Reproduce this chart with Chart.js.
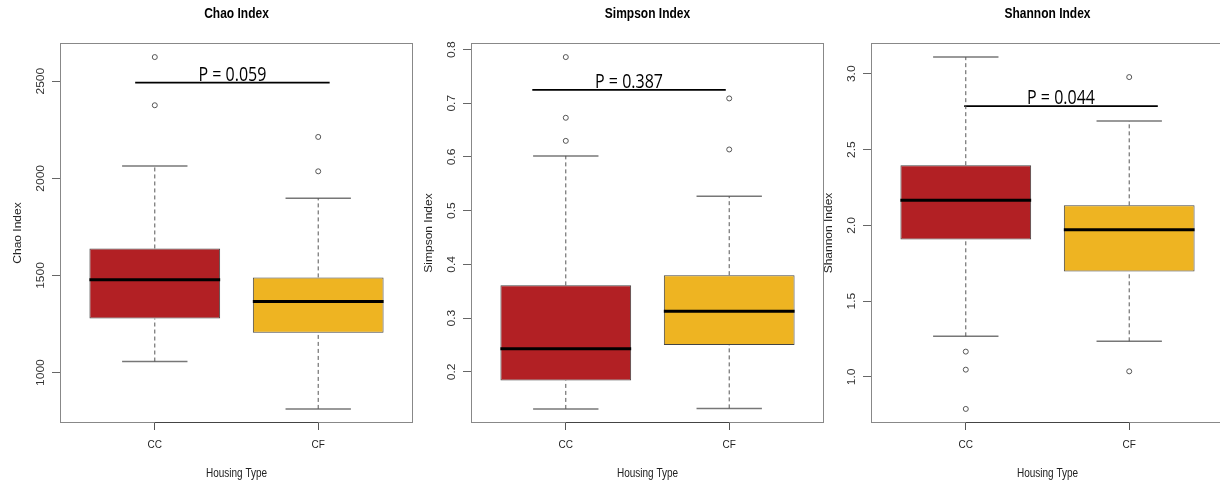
<!DOCTYPE html>
<html>
<head>
<meta charset="utf-8">
<script src="https://cdn.jsdelivr.net/npm/chart.js@4.4.1/dist/chart.umd.min.js"></script>
<style>
  html, body { margin: 0; padding: 0; background: #fff; overflow: hidden; }
  #wrap { position: relative; width: 1220px; height: 491px; overflow: hidden; }
  canvas { position: absolute; top: 0; }
</style>
</head>
<body>
<div id="wrap">
  <canvas id="chao" width="418" height="491" style="left:0px"></canvas>
  <canvas id="simpson" width="418" height="491" style="left:411px"></canvas>
  <canvas id="shannon" width="418" height="491" style="left:811px"></canvas>
</div>
<script>
const groups = ["CC", "CF"];
const boxColors = ["#B22024", "#EEB422"];

// Chao
const chaoLow = [1057, 813];
const chaoQ1 = [1278, 1205];
const chaoMedian = [1478, 1366];
const chaoQ3 = [1639, 1490];
const chaoHigh = [2063, 1898];
const chaoOutliers = [[2624, 2376], [2213, 2036]];
const chaoTicks = [1000, 1500, 2000, 2500];
const chaoTickLabels = ["1000", "1500", "2000", "2500"];
const chaoP = { text: "P = 0.059", y: 2492, from: 0.88, to: 2.07 };

// Simpson
const simpsonLow = [0.131, 0.132];
const simpsonQ1 = [0.184, 0.250];
const simpsonMedian = [0.243, 0.313];
const simpsonQ3 = [0.361, 0.380];
const simpsonHigh = [0.602, 0.527];
const simpsonOutliers = [[0.786, 0.673, 0.630], [0.709, 0.614]];
const simpsonTicks = [0.2, 0.3, 0.4, 0.5, 0.6, 0.7, 0.8];
const simpsonTickLabels = ["0.2", "0.3", "0.4", "0.5", "0.6", "0.7", "0.8"];
const simpsonP = { text: "P = 0.387", y: 0.725, from: 0.795, to: 1.979 };

// Shannon
const shannonLow = [1.268, 1.235];
const shannonQ1 = [1.907, 1.696];
const shannonMedian = [2.165, 1.971];
const shannonQ3 = [2.397, 2.132];
const shannonHigh = [3.110, 2.688];
const shannonOutliers = [[1.167, 1.048, 0.789], [2.978, 1.037]];
const shannonTicks = [1.0, 1.5, 2.0, 2.5, 3.0];
const shannonTickLabels = ["1.0", "1.5", "2.0", "2.5", "3.0"];
const shannonP = { text: "P = 0.044", y: 2.786, from: 0.99, to: 2.175 };

const STRETCH = 1.2; // the source image is stretched vertically

function seg(x0, x1, y0, y1, color, width, dash) {
  return {
    type: "line",
    data: [{ x: x0, y: y0 }, { x: x1, y: y1 }],
    borderColor: color,
    borderWidth: width,
    borderDash: dash || [],
    pointRadius: 0,
    fill: false,
    tension: 0,
    order: 1
  };
}

function stretchText(ctx, text, x, y, rotate) {
  ctx.save();
  ctx.translate(x, y);
  ctx.scale(1, STRETCH);
  if (rotate) ctx.rotate(-Math.PI / 2);
  ctx.fillText(text, 0, 0);
  ctx.restore();
}

function makeChart(id, p) {
  // R style range: data extent + 4%
  const all = p.low.concat(p.high, p.outliers.flat());
  const lo = Math.min(...all), hi = Math.max(...all);
  const pad = (hi - lo) * 0.04;

  const datasets = [{
    type: "bar",
    data: groups.map((g, i) => ({ x: i + 1, y: [p.q1[i], p.q3[i]] })),
    backgroundColor: boxColors,
    borderColor: "#444",
    borderWidth: 1,
    borderSkipped: false,
    barPercentage: 0.8,
    categoryPercentage: 1,
    order: 2
  }];

  groups.forEach((g, i) => {
    const c = i + 1;
    datasets.push(seg(c, c, p.q3[i], p.high[i], "#555", 1, [4, 3]));
    datasets.push(seg(c, c, p.low[i], p.q1[i], "#555", 1, [4, 3]));
    datasets.push(seg(c - 0.2, c + 0.2, p.high[i], p.high[i], "#777", 1.5));
    datasets.push(seg(c - 0.2, c + 0.2, p.low[i], p.low[i], "#777", 1.5));
    datasets.push(seg(c - 0.4, c + 0.4, p.median[i], p.median[i], "#000", 3));
    datasets.push({
      type: "line",
      showLine: false,
      data: p.outliers[i].map(v => ({ x: c, y: v })),
      pointRadius: 2.5,
      pointBackgroundColor: "rgba(0,0,0,0)",
      pointBorderColor: "#555",
      pointBorderWidth: 1,
      order: 0
    });
  });

  datasets.push(seg(p.pval.from, p.pval.to, p.pval.y, p.pval.y, "#000", 1.8));

  const decor = {
    id: "decor",
    afterDraw(chart) {
      const ctx = chart.ctx;
      const a = chart.chartArea;
      const xs = chart.scales.x, ys = chart.scales.y;
      ctx.save();
      // frame
      ctx.strokeStyle = "#888";
      ctx.lineWidth = 1;
      ctx.strokeRect(a.left + 0.5, a.top + 0.5, a.right - a.left - 1, a.bottom - a.top - 1);
      // bottom axis line between the two groups
      ctx.strokeStyle = "#444";
      ctx.beginPath();
      ctx.moveTo(xs.getPixelForValue(1), a.bottom - 0.5);
      ctx.lineTo(xs.getPixelForValue(2), a.bottom - 0.5);
      ctx.stroke();

      const cx = (a.left + a.right) / 2;
      // title
      ctx.fillStyle = "#000";
      ctx.textAlign = "center";
      ctx.textBaseline = "middle";
      ctx.font = "bold 12px 'Liberation Sans', Arial, sans-serif";
      stretchText(ctx, p.title, cx, 14);
      // axis titles
      ctx.fillStyle = "#222";
      ctx.font = "10px 'Liberation Sans', Arial, sans-serif";
      stretchText(ctx, "Housing Type", cx, 474);
      stretchText(ctx, p.title, a.left - 42, (a.top + a.bottom) / 2, true);
      // y tick labels, rotated like R
      ctx.fillStyle = "#333";
      p.ticks.forEach((v, i) => {
        stretchText(ctx, p.tickLabels[i], a.left - 18.5, ys.getPixelForValue(v), true);
      });
      // p value
      ctx.fillStyle = "#000";
      ctx.font = "16px 'Open Sans', sans-serif";
      ctx.textBaseline = "alphabetic";
      const px = (xs.getPixelForValue(p.pval.from) + xs.getPixelForValue(p.pval.to)) / 2;
      stretchText(ctx, p.pval.text, px, ys.getPixelForValue(p.pval.y) - 2);
      ctx.restore();
    }
  };

  return new Chart(document.getElementById(id), {
    type: "bar",
    data: { datasets },
    options: {
      responsive: false,
      animation: false,
      events: [],
      layout: { padding: { top: 43, left: 0, right: 0, bottom: 0 } },
      plugins: { legend: { display: false }, tooltip: { enabled: false } },
      scales: {
        x: {
          type: "linear",
          min: 0.42,
          max: 2.58,
          offset: false,
          afterBuildTicks: s => { s.ticks = [{ value: 1 }, { value: 2 }]; },
          afterFit: s => { s.height = 68; s.paddingLeft = 0; s.paddingRight = 0; },
          ticks: {
            callback: v => groups[v - 1],
            font: { family: "'Liberation Sans', Arial, sans-serif", size: 10 },
            color: "#222",
            padding: 9,
            maxRotation: 0
          },
          grid: { drawOnChartArea: false, offset: false, tickLength: 7, color: "#555" },
          border: { display: false }
        },
        y: {
          type: "linear",
          min: lo - pad,
          max: hi + pad,
          afterBuildTicks: s => { s.ticks = p.ticks.map(v => ({ value: v })); },
          afterFit: s => { s.width = 60; s.paddingTop = 0; s.paddingBottom = 0; },
          ticks: { display: false },
          grid: { drawOnChartArea: false, tickLength: 8, color: "#666" },
          border: { display: false }
        }
      }
    },
    plugins: [decor]
  });
}

makeChart("chao", {
  title: "Chao Index", low: chaoLow, q1: chaoQ1, median: chaoMedian, q3: chaoQ3,
  high: chaoHigh, outliers: chaoOutliers, ticks: chaoTicks, tickLabels: chaoTickLabels, pval: chaoP
});
makeChart("simpson", {
  title: "Simpson Index", low: simpsonLow, q1: simpsonQ1, median: simpsonMedian, q3: simpsonQ3,
  high: simpsonHigh, outliers: simpsonOutliers, ticks: simpsonTicks, tickLabels: simpsonTickLabels, pval: simpsonP
});
makeChart("shannon", {
  title: "Shannon Index", low: shannonLow, q1: shannonQ1, median: shannonMedian, q3: shannonQ3,
  high: shannonHigh, outliers: shannonOutliers, ticks: shannonTicks, tickLabels: shannonTickLabels, pval: shannonP
});
</script>
</body>
</html>
